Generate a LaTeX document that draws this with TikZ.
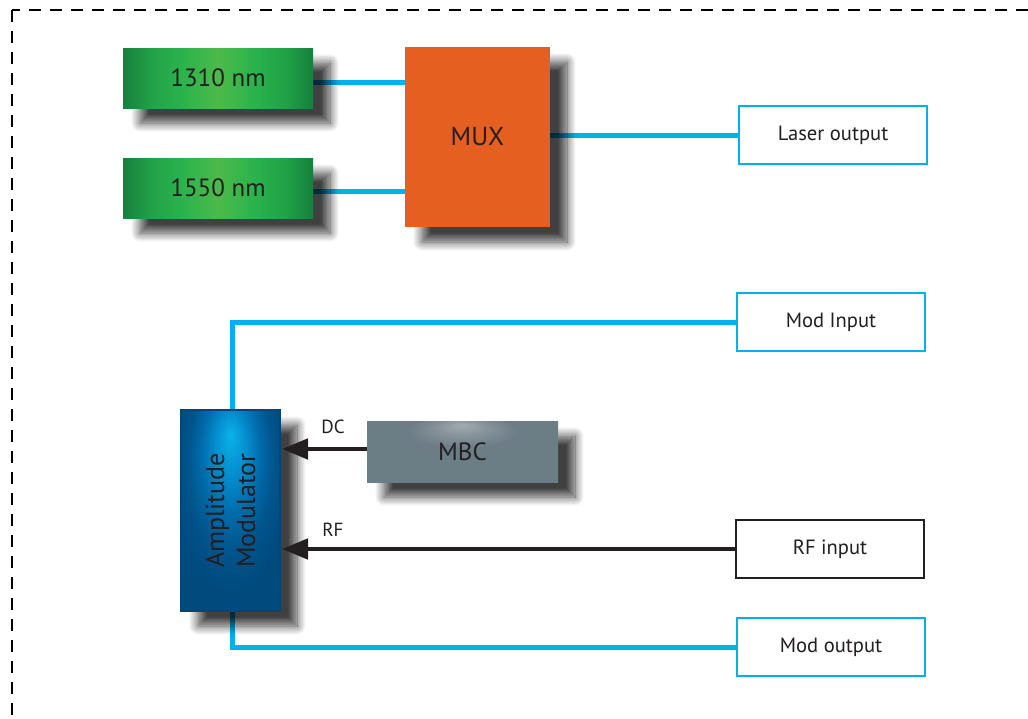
\documentclass[tikz,border=0pt]{standalone}
\usepackage{fontspec}
\setmainfont{PT Sans}
\usetikzlibrary{arrows.meta,shadows.blur}
\definecolor{fiberc}{HTML}{00B1EB}
\definecolor{txt}{HTML}{231F20}
\definecolor{muxc}{HTML}{E55F20}
\definecolor{amborder}{HTML}{004676}
\pgfdeclarehorizontalshading{greenshade}{100bp}{%
  rgb(0bp)=(0.09,0.49,0.24);
  rgb(25bp)=(0.09,0.50,0.24);
  rgb(32bp)=(0.13,0.63,0.28);
  rgb(40bp)=(0.16,0.70,0.30);
  rgb(50bp)=(0.30,0.73,0.29);
  rgb(60bp)=(0.16,0.70,0.30);
  rgb(68bp)=(0.13,0.63,0.28);
  rgb(75bp)=(0.09,0.50,0.24);
  rgb(100bp)=(0.09,0.49,0.24)}
\pgfdeclareradialshading{amshade}{\pgfpoint{0bp}{19bp}}{%
  rgb(0bp)=(0.04,0.70,0.92);
  rgb(7bp)=(0.02,0.57,0.82);
  rgb(15bp)=(0.00,0.42,0.67);
  rgb(22bp)=(0.00,0.33,0.55);
  rgb(30bp)=(0.00,0.29,0.49);
  rgb(60bp)=(0.00,0.29,0.48)}
\pgfdeclareradialshading{mbcshade}{\pgfpoint{0bp}{22bp}}{%
  rgb(0bp)=(0.64,0.67,0.69);
  rgb(7bp)=(0.52,0.57,0.60);
  rgb(14bp)=(0.43,0.49,0.53);
  rgb(20bp)=(0.42,0.49,0.52);
  rgb(60bp)=(0.42,0.49,0.52)}
\tikzset{
  shad/.style={blur shadow={shadow xshift=8.5pt, shadow yshift=-7.5pt, shadow opacity=75, shadow blur radius=4.5pt, shadow blur steps=14}},
  laserbox/.style={shad, rectangle, minimum width=95pt, minimum height=30pt, shading=greenshade, text=txt, font=\fontsize{12.5}{14}\selectfont},
  muxbox/.style={shad, rectangle, fill=muxc, minimum width=72.5pt, minimum height=90pt, text=txt, font=\fontsize{13}{15}\selectfont},
  outbox/.style={rectangle, draw=fiberc, line width=1.4pt, fill=white, minimum width=94pt, minimum height=29pt, text=txt, font=\fontsize{10.3}{12}\selectfont},
  rfbox/.style={rectangle, draw=txt, line width=1.2pt, fill=white, minimum width=94pt, minimum height=29pt, text=txt, font=\fontsize{10.3}{12}\selectfont},
  ambox/.style={shad, rectangle, draw=amborder, line width=1pt, shading=amshade, minimum width=49.5pt, minimum height=100.5pt},
  mbcbox/.style={shad, rectangle, shading=mbcshade, minimum width=95.5pt, minimum height=30.5pt, text=txt, font=\fontsize{12.5}{14}\selectfont},
  fiber/.style={draw=fiberc, line width=2.5pt},
  sig/.style={draw=txt, line width=2.4pt, -{Triangle[length=13pt,width=10pt]}},
  lbl/.style={text=txt, font=\fontsize{9.5}{11}\selectfont},
  frame/.style={draw=black, line width=1.4pt, dash pattern=on 6pt off 4.5pt}
}
\begin{document}
\begin{tikzpicture}[x=0.5pt,y=-0.5pt]
\useasboundingbox (0,0) rectangle (1028,718);
\clip (0,0) rectangle (1028,718);
\draw[frame] (12,10) rectangle (1050,740);
% connectors first (shadows fall on them)
\coordinate (a1) at (313,82);
\coordinate (a2) at (313,191);
\coordinate (mo) at (550,135);
\node[outbox] (laser) at (833,135) {Laser output};
\node[outbox] (modin) at (831,322) {Mod Input};
\node[rfbox] (rfin) at (830,549) {RF input};
\node[outbox] (modout) at (831,647) {Mod output};
\coordinate (amt) at (232,410);
\coordinate (amb) at (232,611);
\draw[fiber] (a1) -- (405,82);
\draw[fiber] (a2) -- (405,191);
\draw[fiber] (mo) -- (laser.west);
\draw[fiber] (modin.west) -| (amt);
\draw[fiber] (amb) |- (modout.west);
% boxes
\node[laserbox] (n1310) at (218,78) {1310 nm};
\node[laserbox] (n1550) at (218,188) {1550 nm};
\node[muxbox] (mux) at (477.5,137) {MUX};
\node[ambox] (am) at (230.5,510.5) {};
\node[text=txt, rotate=90, align=center, font=\fontsize{13}{15.5}\selectfont] (amlbl) at (am.center) {Amplitude\\Modulator};
\node[mbcbox] (mbc) at (462.5,451.5) {MBC};
\draw[sig] (mbc.west |- 0,449) -- (282,449);
\draw[sig] (rfin.west) -- (282,549);
\node[lbl] (dc) at (333,427) {DC};
\node[lbl] (rf) at (333,530) {RF};
\end{tikzpicture}
\end{document}
